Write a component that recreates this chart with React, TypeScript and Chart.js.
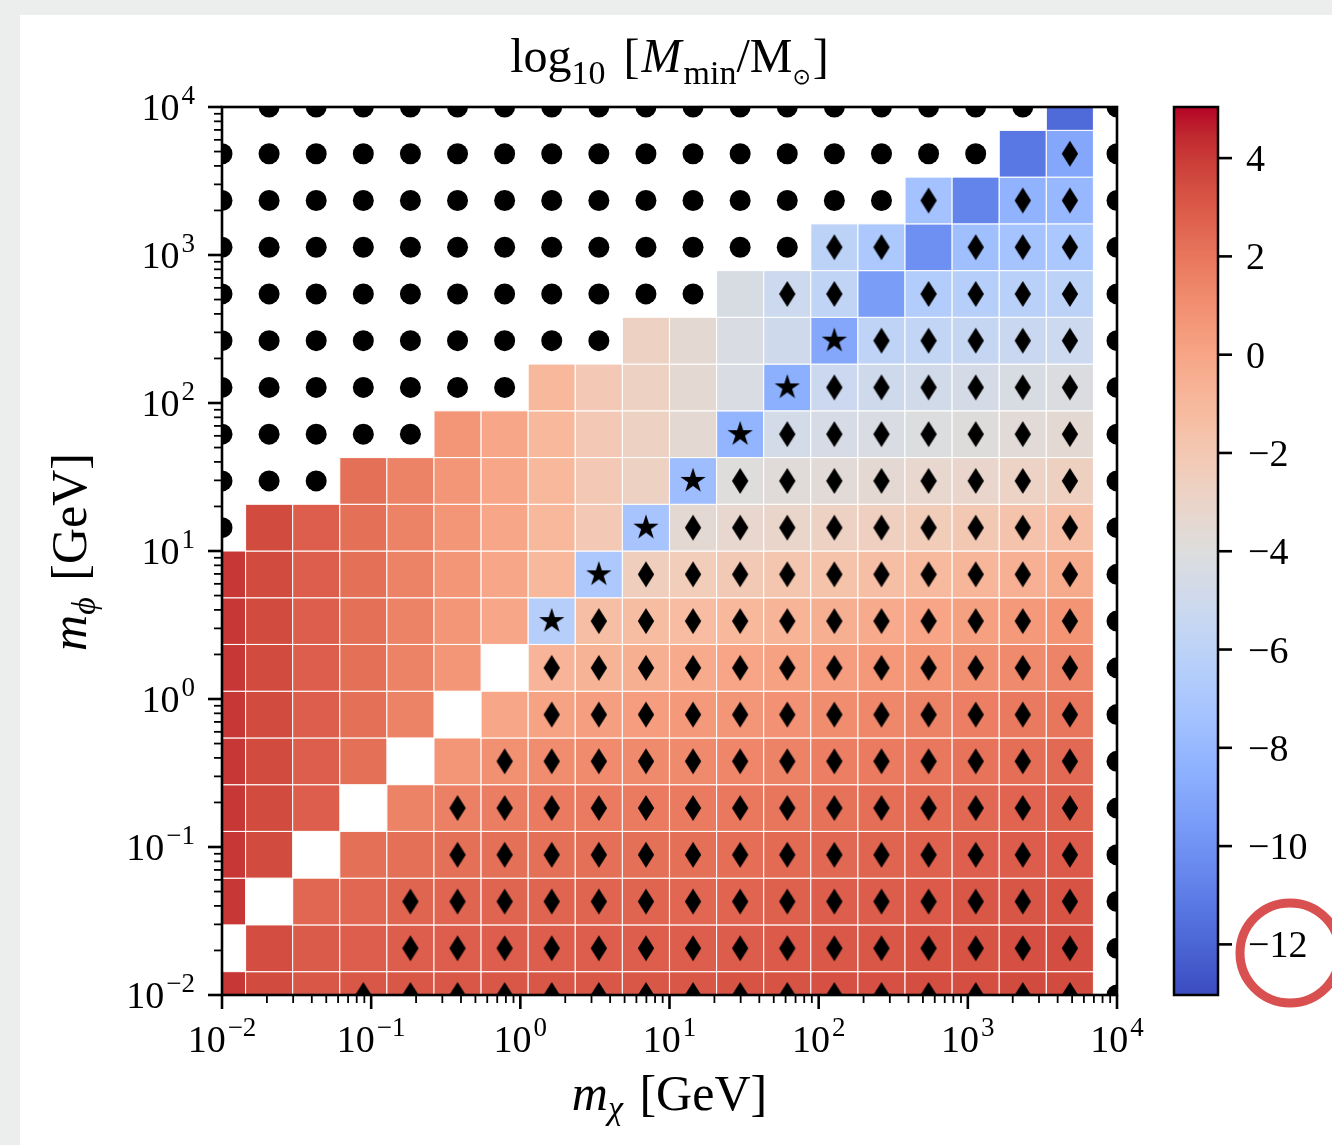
import React, { useEffect, useRef } from 'react';
import { Chart, registerables } from 'chart.js';

Chart.register(...registerables);

// ---- scan grid (GeV) ----
const mChi = [0.01, 0.02069, 0.04281, 0.08859, 0.1833, 0.3793, 0.7848, 1.624, 3.36, 6.952, 14.38, 29.76, 61.58, 127.4, 263.7, 545.6, 1129, 2336, 4833, 10000];
const mPhi = [0.01, 0.02069, 0.04281, 0.08859, 0.1833, 0.3793, 0.7848, 1.624, 3.36, 6.952, 14.38, 29.76, 61.58, 127.4, 263.7, 545.6, 1129, 2336, 4833, 10000];

// ---- axis ticks ----
const xTickExponents = [-2, -1, 0, 1, 2, 3, 4];
const yTickExponents = [-2, -1, 0, 1, 2, 3, 4];
const minorMultipliers = [2, 3, 4, 5, 6, 7, 8, 9];
const colorbarTicks = [4, 2, 0, -2, -4, -6, -8, -10, -12];
const colorbarMin = -13.03;
const colorbarMax = 5.04;

// ---- log10(M_min / Msun); one row per m_phi value (row00 = 1e-2 GeV ... row19 = 1e4 GeV), null = no value ----
const row00 = [4.1, 3.5, 3.1, 3.1, 3.1, 3.1, 3.1, 3.1, 3.1, 3.1, 3.1, 3.2, 3.2, 3.3, 3.3, 3.4, 3.4, 3.5, 3.5, null];
const row01 = [null, 3.45, 2.95, 2.85, 2.85, 2.85, 2.85, 2.85, 2.85, 2.85, 2.85, 2.9, 3.0, 3.05, 3.1, 3.2, 3.25, 3.35, 3.45, null];
const row02 = [4.1, null, 2.55, 2.55, 2.6, 2.6, 2.6, 2.6, 2.6, 2.6, 2.55, 2.65, 2.75, 2.85, 2.9, 3.0, 3.1, 3.15, 3.25, null];
const row03 = [4.1, 3.5, null, 2.2, 2.2, 2.2, 2.2, 2.2, 2.2, 2.2, 2.2, 2.3, 2.4, 2.5, 2.6, 2.7, 2.8, 2.9, 3.0, null];
const row04 = [4.1, 3.5, 2.85, null, 1.5, 1.6, 1.7, 1.8, 1.8, 1.8, 1.8, 1.9, 2.0, 2.15, 2.3, 2.4, 2.5, 2.65, 2.75, null];
const row05 = [4.1, 3.5, 2.85, 2.2, null, 0.7, 0.95, 1.1, 1.15, 1.2, 1.2, 1.35, 1.5, 1.65, 1.8, 1.95, 2.1, 2.3, 2.45, null];
const row06 = [4.1, 3.5, 2.85, 2.2, 1.5, null, -0.1, 0.1, 0.3, 0.4, 0.5, 0.7, 0.9, 1.1, 1.3, 1.5, 1.65, 1.85, 2.0, null];
const row07 = [4.1, 3.5, 2.85, 2.2, 1.5, 0.7, null, -0.8, -0.7, -0.5, -0.25, 0.0, 0.2, 0.4, 0.6, 0.8, 1.0, 1.2, 1.45, null];
const row08 = [4.1, 3.5, 2.85, 2.2, 1.5, 0.7, -0.1, -6.4, -1.35, -1.3, -1.25, -1.0, -0.75, -0.5, -0.25, 0.0, 0.25, 0.5, 0.8, null];
const row09 = [4.1, 3.5, 2.85, 2.2, 1.5, 0.7, -0.1, -1.0, -6.9, -2.5, -2.35, -2.1, -1.85, -1.6, -1.35, -1.1, -0.85, -0.55, -0.3, null];
const row10 = [null, 3.5, 2.85, 2.2, 1.5, 0.7, -0.1, -1.0, -2.05, -7.2, -3.5, -3.3, -3.05, -2.8, -2.55, -2.3, -2.0, -1.7, -1.4, null];
const row11 = [null, null, null, 2.2, 1.5, 0.7, -0.1, -1.0, -2.05, -2.7, -7.7, -3.95, -3.8, -3.65, -3.5, -3.3, -3.1, -2.85, -2.6, null];
const row12 = [null, null, null, null, null, 0.7, -0.1, -1.0, -2.05, -2.7, -3.5, -8.2, -4.7, -4.5, -4.3, -4.1, -3.9, -3.7, -3.5, null];
const row13 = [null, null, null, null, null, null, null, -1.0, -2.05, -2.7, -3.5, -4.3, -8.5, -5.2, -5.0, -4.8, -4.6, -4.4, -4.2, null];
const row14 = [null, null, null, null, null, null, null, null, null, -2.7, -3.5, -4.3, -5.0, -9.0, -5.9, -5.7, -5.5, -5.3, -5.1, null];
const row15 = [null, null, null, null, null, null, null, null, null, null, null, -4.4, -5.1, -5.8, -9.5, -6.6, -6.4, -6.2, -6.0, null];
const row16 = [null, null, null, null, null, null, null, null, null, null, null, null, null, -6.0, -6.9, -10.1, -7.6, -7.3, -7.0, null];
const row17 = [null, null, null, null, null, null, null, null, null, null, null, null, null, null, null, -7.4, -10.7, -8.3, -8.0, null];
const row18 = [null, null, null, null, null, null, null, null, null, null, null, null, null, null, null, null, null, -11.2, -9.0, null];
const row19 = [null, null, null, null, null, null, null, null, null, null, null, null, null, null, null, null, null, null, -11.8, null];
const valueRows = [row00, row01, row02, row03, row04, row05, row06, row07, row08, row09, row10, row11, row12, row13, row14, row15, row16, row17, row18, row19];

// ---- markers per cell: o = circle, d = thin diamond, s = star, . = none ----
const mk00 = '...' + 'dddddddddddddddd' + 'o';
const mk01 = '....' + 'ddddddddddddddd' + 'o';
const mk02 = '....' + 'ddddddddddddddd' + 'o';
const mk03 = '.....' + 'dddddddddddddd' + 'o';
const mk04 = '.....' + 'dddddddddddddd' + 'o';
const mk05 = '......' + 'ddddddddddddd' + 'o';
const mk06 = '.......' + 'dddddddddddd' + 'o';
const mk07 = '.......' + 'dddddddddddd' + 'o';
const mk08 = '.......' + 's' + 'ddddddddddd' + 'o';
const mk09 = '........' + 's' + 'dddddddddd' + 'o';
const mk10 = 'o' + '........' + 's' + 'ddddddddd' + 'o';
const mk11 = 'ooo' + '.......' + 's' + 'dddddddd' + 'o';
const mk12 = 'ooooo' + '......' + 's' + 'ddddddd' + 'o';
const mk13 = 'ooooooo' + '.....' + 's' + 'dddddd' + 'o';
const mk14 = 'ooooooooo' + '....' + 's' + 'ddddd' + 'o';
const mk15 = 'ooooooooooo' + '.dd.dddd' + 'o';
const mk16 = 'ooooooooooooo' + 'dd.ddd' + 'o';
const mk17 = 'ooooooooooooooo' + 'd.dd' + 'o';
const mk18 = 'ooooooooooooooooo' + '.d' + 'o';
const mk19 = '.' + 'ooooooooooooooooo' + '.' + 'o';
const markerRows = [mk00, mk01, mk02, mk03, mk04, mk05, mk06, mk07, mk08, mk09, mk10, mk11, mk12, mk13, mk14, mk15, mk16, mk17, mk18, mk19];

// ---- coolwarm colormap anchors (t = k/32) ----
const COOLWARM = [
  [59, 76, 192], [68, 90, 204], [77, 104, 215], [87, 117, 225], [98, 130, 234], [108, 142, 241], [119, 154, 247], [130, 165, 251],
  [141, 176, 254], [152, 185, 255], [163, 194, 255], [174, 201, 253], [184, 208, 249], [194, 213, 244], [204, 217, 238], [213, 219, 230],
  [221, 221, 221], [229, 216, 209], [236, 211, 198], [241, 204, 185], [245, 196, 173], [247, 187, 160], [247, 177, 148], [247, 166, 135],
  [244, 154, 123], [241, 141, 111], [236, 127, 99], [229, 112, 88], [222, 96, 77], [213, 80, 66], [203, 62, 56], [192, 40, 47], [180, 4, 38],
];

function coolwarm(v: number): string {
  let t = (v - colorbarMin) / (colorbarMax - colorbarMin);
  t = Math.max(0, Math.min(1, t));
  const f = t * 32;
  const k = Math.min(31, Math.floor(f));
  const a = f - k;
  const c0 = COOLWARM[k], c1 = COOLWARM[k + 1];
  const r = Math.round(c0[0] + (c1[0] - c0[0]) * a);
  const g = Math.round(c0[1] + (c1[1] - c0[1]) * a);
  const b = Math.round(c0[2] + (c1[2] - c0[2]) * a);
  return `rgb(${r},${g},${b})`;
}

function cellEdges(c: number[]): number[] {
  const e: number[] = [];
  for (let i = 1; i < c.length; i++) e[i] = Math.sqrt(c[i - 1] * c[i]);
  e[0] = (c[0] * c[0]) / e[1];
  e[c.length] = (c[c.length - 1] * c[c.length - 1]) / e[c.length - 1];
  return e;
}

function cellsWith(ch: string) {
  const pts: { x: number; y: number }[] = [];
  markerRows.forEach((row, j) => {
    for (let i = 0; i < row.length; i++) if (row[i] === ch) pts.push({ x: mChi[i], y: mPhi[j] });
  });
  return pts;
}

const SERIF = '"Liberation Serif", "DejaVu Serif", serif';

function makeDiamond() {
  const c = document.createElement('canvas');
  c.width = 18; c.height = 28;
  const g = c.getContext('2d')!;
  g.fillStyle = '#000';
  g.beginPath();
  g.moveTo(9, 1); g.lineTo(17.2, 14); g.lineTo(9, 27); g.lineTo(0.8, 14);
  g.closePath(); g.fill();
  return c;
}

function makeStar() {
  const c = document.createElement('canvas');
  c.width = 30; c.height = 30;
  const g = c.getContext('2d')!;
  g.fillStyle = '#000';
  g.beginPath();
  const R = 13.3, r = R * 0.382;
  for (let k = 0; k < 10; k++) {
    const ang = -Math.PI / 2 + (k * Math.PI) / 5;
    const rr = k % 2 === 0 ? R : r;
    const x = 15 + rr * Math.cos(ang), y = 15 + rr * Math.sin(ang);
    if (k === 0) g.moveTo(x, y); else g.lineTo(x, y);
  }
  g.closePath(); g.fill();
  return c;
}

type Run = { t: string; f: string; dy?: number; dx?: number };

function runsWidth(ctx: CanvasRenderingContext2D, runs: Run[]) {
  let w = 0;
  for (const r of runs) { ctx.font = r.f; w += ctx.measureText(r.t).width + (r.dx || 0); }
  return w;
}
function drawRuns(ctx: CanvasRenderingContext2D, runs: Run[], x0: number, base: number) {
  let x = x0;
  ctx.textAlign = 'left';
  ctx.textBaseline = 'alphabetic';
  for (const r of runs) {
    ctx.font = r.f;
    ctx.fillText(r.t, x, base + (r.dy || 0));
    x += ctx.measureText(r.t).width + (r.dx || 0);
  }
}

function drawPower(ctx: CanvasRenderingContext2D, e: number, x: number, base: number, align: 'center' | 'right') {
  const main = `38px ${SERIF}`;
  const sup = `27px ${SERIF}`;
  const et = e < 0 ? '\u2212' + Math.abs(e) : String(e);
  ctx.font = main; const w1 = ctx.measureText('10').width;
  ctx.font = sup; const w2 = ctx.measureText(et).width;
  const gap = 2;
  const total = w1 + gap + w2;
  const x0 = align === 'center' ? x - total / 2 : x - total;
  ctx.textAlign = 'left';
  ctx.textBaseline = 'alphabetic';
  ctx.font = main; ctx.fillText('10', x0, base);
  ctx.font = sup; ctx.fillText(et, x0 + w1 + gap, base - 16);
}

const heatmapPlugin = {
  id: 'heatmapCells',
  beforeDatasetsDraw(chart: any) {
    const { ctx, chartArea: ca, scales } = chart;
    const xs = scales.x, ys = scales.y;
    const xe = cellEdges(mChi), ye = cellEdges(mPhi);
    ctx.save();
    ctx.beginPath();
    ctx.rect(ca.left, ca.top, ca.right - ca.left, ca.bottom - ca.top);
    ctx.clip();
    valueRows.forEach((row, j) => {
      row.forEach((v, i) => {
        if (v === null || v === undefined) return;
        const x0 = xs.getPixelForValue(xe[i]);
        const x1 = xs.getPixelForValue(xe[i + 1]);
        const y0 = ys.getPixelForValue(ye[j + 1]);
        const y1 = ys.getPixelForValue(ye[j]);
        ctx.fillStyle = coolwarm(v);
        ctx.fillRect(x0, y0, x1 - x0, y1 - y0);
        ctx.strokeStyle = 'rgba(255,255,255,0.95)';
        ctx.lineWidth = 1.1;
        ctx.strokeRect(x0, y0, x1 - x0, y1 - y0);
      });
    });
    ctx.restore();
  },
};

const decorPlugin = {
  id: 'decor',
  afterDraw(chart: any) {
    const { ctx, chartArea: ca, scales } = chart;
    const xs = scales.x, ys = scales.y, cb = scales.cb;
    ctx.save();
    ctx.fillStyle = '#000';
    ctx.strokeStyle = '#000';
    ctx.lineCap = 'butt';
    const line = (x1: number, y1: number, x2: number, y2: number, w: number) => {
      ctx.lineWidth = w;
      ctx.beginPath(); ctx.moveTo(x1, y1); ctx.lineTo(x2, y2); ctx.stroke();
    };

    // minor ticks
    for (const e of xTickExponents.slice(0, -1)) {
      for (const m of minorMultipliers) {
        const px = xs.getPixelForValue(m * Math.pow(10, e));
        line(px, ca.bottom, px, ca.bottom + 8, 1.8);
      }
    }
    for (const e of yTickExponents.slice(0, -1)) {
      for (const m of minorMultipliers) {
        const py = ys.getPixelForValue(m * Math.pow(10, e));
        line(ca.left, py, ca.left - 8, py, 1.8);
      }
    }
    // major ticks + labels
    for (const e of xTickExponents) {
      const px = xs.getPixelForValue(Math.pow(10, e));
      line(px, ca.bottom, px, ca.bottom + 14, 2.6);
      drawPower(ctx, e, px, ca.bottom + 56.5, 'center');
    }
    for (const e of yTickExponents) {
      const py = ys.getPixelForValue(Math.pow(10, e));
      line(ca.left, py, ca.left - 14, py, 2.6);
      drawPower(ctx, e, ca.left - 27, py + 13, 'right');
    }
    // spines
    ctx.lineWidth = 2.6;
    ctx.strokeRect(ca.left, ca.top, ca.right - ca.left, ca.bottom - ca.top);

    // colorbar
    const barL = ca.right + 57, barR = ca.right + 101;
    const top = Math.round(cb.getPixelForValue(colorbarMax));
    const bot = Math.round(cb.getPixelForValue(colorbarMin));
    for (let py = top; py < bot; py++) {
      ctx.fillStyle = coolwarm(cb.getValueForPixel(py + 0.5));
      ctx.fillRect(barL, py, barR - barL, 1);
    }
    ctx.lineWidth = 2.5;
    ctx.strokeStyle = '#000';
    ctx.strokeRect(barL, top, barR - barL, bot - top);
    ctx.fillStyle = '#000';
    for (const v of colorbarTicks) {
      const py = cb.getPixelForValue(v);
      line(barR, py, barR + 14, py, 2.6);
      ctx.font = `38px ${SERIF}`;
      ctx.textAlign = 'left';
      ctx.textBaseline = 'alphabetic';
      ctx.fillText(v < 0 ? '\u2212' + Math.abs(v) : String(v), v < 0 ? barR + 30 : barR + 28, py + 13);
    }

    // title
    const R48 = `48px ${SERIF}`, I48 = `italic 48px ${SERIF}`, R34 = `34px ${SERIF}`;
    const titleRuns: Run[] = [
      { t: 'log', f: R48 }, { t: '10', f: R34, dy: 12, dx: 6 }, { t: ' [', f: R48, dx: 2 },
      { t: 'M', f: I48, dx: 2 }, { t: 'min', f: R34, dy: 12 }, { t: '/M', f: R48 },
      { t: '\u2299', f: `22px "DejaVu Sans", sans-serif`, dy: 12, dx: 2 }, { t: ']', f: R48 },
    ];
    const cx = (ca.left + ca.right) / 2;
    drawRuns(ctx, titleRuns, cx - runsWidth(ctx, titleRuns) / 2, 72);

    // x label
    const R50 = `50px ${SERIF}`, I50 = `italic 50px ${SERIF}`, I34 = `italic 34px ${SERIF}`;
    const xRuns: Run[] = [{ t: 'm', f: I50 }, { t: '\u03C7', f: I34, dy: 9, dx: 4 }, { t: ' [GeV]', f: R50 }];
    drawRuns(ctx, xRuns, cx - runsWidth(ctx, xRuns) / 2, 1110);

    // y label
    const yRuns: Run[] = [{ t: 'm', f: I50 }, { t: '\u03D5', f: I34, dy: 9, dx: 4 }, { t: ' [GeV]', f: R50 }];
    ctx.save();
    ctx.translate(86, 552);
    ctx.rotate(-Math.PI / 2);
    drawRuns(ctx, yRuns, -runsWidth(ctx, yRuns) / 2, 0);
    ctx.restore();

    // red highlight circle around the -12 label
    ctx.strokeStyle = '#d8504f';
    ctx.lineWidth = 9;
    ctx.beginPath();
    ctx.arc(1290, 953, 50, 0, Math.PI * 2);
    ctx.stroke();

    ctx.restore();
  },
};

export default function App() {
  const ref = useRef<HTMLCanvasElement>(null);
  useEffect(() => {
    const diamond = makeDiamond();
    const star = makeStar();
    const chart = new Chart(ref.current as HTMLCanvasElement, {
      type: 'scatter',
      data: {
        datasets: [
          { label: 'circle', data: cellsWith('o'), pointStyle: 'circle', pointRadius: 10.5, pointHoverRadius: 10.5, backgroundColor: '#000', borderWidth: 0, clip: 0 } as any,
          { label: 'diamond', data: cellsWith('d'), pointStyle: diamond, backgroundColor: '#000', borderWidth: 0, clip: 0 } as any,
          { label: 'star', data: cellsWith('s'), pointStyle: star, backgroundColor: '#000', borderWidth: 0, clip: 0 } as any,
        ],
      },
      options: {
        responsive: false,
        animation: false,
        devicePixelRatio: 1,
        events: [],
        layout: { padding: { left: 222, top: 107, right: 215, bottom: 150 } },
        plugins: { legend: { display: false }, tooltip: { enabled: false } },
        scales: {
          x: { type: 'logarithmic', min: 0.01, max: 10000, display: false },
          y: { type: 'logarithmic', min: 0.01, max: 10000, display: false },
          cb: { type: 'linear', axis: 'y', position: 'right', min: colorbarMin, max: colorbarMax, display: false },
        },
      } as any,
      plugins: [heatmapPlugin, decorPlugin],
    });
    return () => chart.destroy();
  }, []);

  return (
    <div style={{ position: 'absolute', left: 0, top: 0, width: 1332, height: 1145, background: '#eceeed', overflow: 'hidden' }}>
      <div style={{ position: 'absolute', left: 20, top: 15, width: 1312, height: 1130, background: '#ffffff' }} />
      <canvas ref={ref} width={1332} height={1145} style={{ position: 'absolute', left: 0, top: 0, width: 1332, height: 1145 }} />
    </div>
  );
}
